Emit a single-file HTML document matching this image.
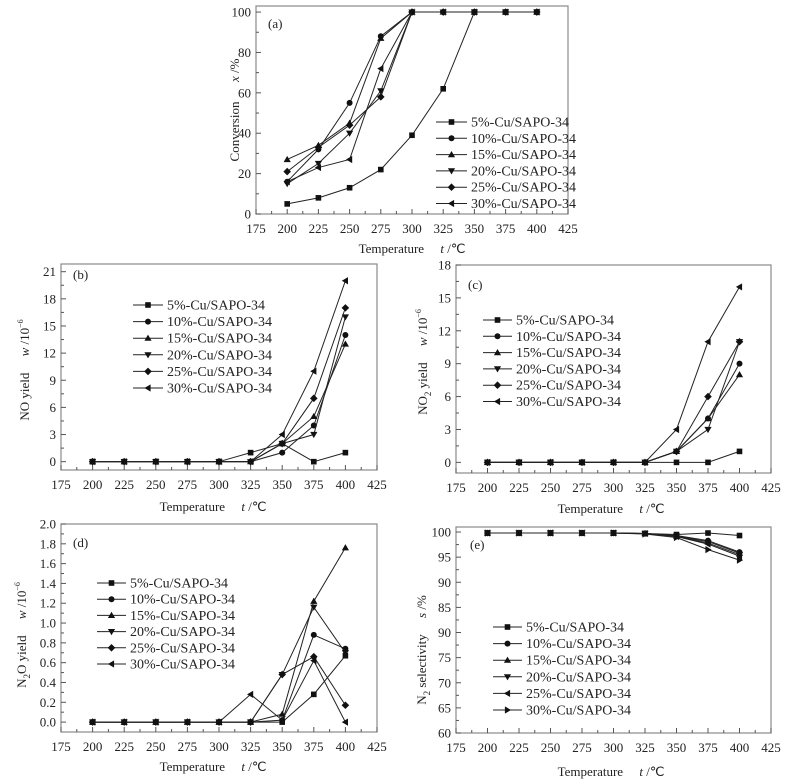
<!DOCTYPE html>
<html><head><meta charset="utf-8"><style>
body{margin:0;background:#fff}
svg{display:block;font-family:"Liberation Serif",serif}
text{fill:#222}
</style></head><body>
<svg id="fig" width="791" height="781" viewBox="0 0 791 781" xmlns="http://www.w3.org/2000/svg"></svg>
<script>
const temps=[200,225,250,275,300,325,350,375,400];
const seriesNames=["5%-Cu/SAPO-34","10%-Cu/SAPO-34","15%-Cu/SAPO-34","20%-Cu/SAPO-34","25%-Cu/SAPO-34","30%-Cu/SAPO-34"];
const xTicks=[175,200,225,250,275,300,325,350,375,400,425];
// (a) conversion
const convA5=[5,8,13,22,39,62,100,100,100];
const convA10=[16,32,55,88,100,100,100,100,100];
const convA15=[27,34,45,87,100,100,100,100,100];
const convA20=[15,25,40,61,100,100,100,100,100];
const convA25=[21,33,44,58,100,100,100,100,100];
const convA30=[16,23,27,72,100,100,100,100,100];
const yTicksA=[0,20,40,60,80,100];
// (b) NO yield
const noB5=[0,0,0,0,0,1,2,0,1];
const noB10=[0,0,0,0,0,0,1,4,14];
const noB15=[0,0,0,0,0,0,2,5,13];
const noB20=[0,0,0,0,0,0,2,3,16];
const noB25=[0,0,0,0,0,0,2,7,17];
const noB30=[0,0,0,0,0,0,3,10,20];
const yTicksB=[0,3,6,9,12,15,18,21];
// (c) NO2 yield
const no2C5=[0,0,0,0,0,0,0,0,1];
const no2C10=[0,0,0,0,0,0,1,4,9];
const no2C15=[0,0,0,0,0,0,1,4,8];
const no2C20=[0,0,0,0,0,0,1,3,11];
const no2C25=[0,0,0,0,0,0,1,6,11];
const no2C30=[0,0,0,0,0,0,3,11,16];
const yTicksC=[0,3,6,9,12,15,18];
// (d) N2O yield
const n2oD5=[0,0,0,0,0,0,0,0.28,0.67];
const n2oD10=[0,0,0,0,0,0,0.02,0.88,0.74];
const n2oD15=[0,0,0,0,0,0,0.08,1.22,1.76];
const n2oD20=[0,0,0,0,0,0,0.48,1.16,0.70];
const n2oD25=[0,0,0,0,0,0,0.48,0.66,0.17];
const n2oD30=[0,0,0,0,0,0.28,0.02,0.62,0];
const yTicksD=[0,0.2,0.4,0.6,0.8,1.0,1.2,1.4,1.6,1.8,2.0];
const yTickLabelsD=["0.0","0.2","0.4","0.6","0.8","1.0","1.2","1.4","1.6","1.8","2.0"];
// (e) N2 selectivity
const selE5=[99.8,99.8,99.8,99.8,99.8,99.7,99.5,99.8,99.3];
const selE10=[99.8,99.8,99.8,99.8,99.8,99.7,99.3,98.3,96.0];
const selE15=[99.8,99.8,99.8,99.8,99.8,99.7,99.2,98.1,95.8];
const selE20=[99.8,99.8,99.8,99.8,99.8,99.7,99.2,97.8,95.5];
const selE25=[99.8,99.8,99.8,99.8,99.8,99.7,99.1,97.6,95.2];
const selE30=[99.8,99.8,99.8,99.8,99.8,99.6,98.9,96.5,94.4];
const yTicksE=[60,65,70,75,80,85,90,95,100];
const yTickLabelsE=["60","65","70","75","90","85","90","95","100"];

const NS="http://www.w3.org/2000/svg";
const svg=document.getElementById('fig');
function mk(tag,attrs,parent){const e=document.createElementNS(NS,tag);for(const k in attrs)e.setAttribute(k,attrs[k]);(parent||svg).appendChild(e);return e;}
function marker(g,type,cx,cy){
  let e;
  if(type==='sq')e=mk('rect',{x:cx-2.8,y:cy-2.8,width:5.6,height:5.6,fill:'#111'},g);
  else if(type==='ci')e=mk('circle',{cx:cx,cy:cy,r:3,fill:'#111'},g);
  else{let p;
    if(type==='up')p=[[0,-3.6],[3.6,2.6],[-3.6,2.6]];
    else if(type==='dn')p=[[0,3.6],[3.6,-2.6],[-3.6,-2.6]];
    else if(type==='di')p=[[0,-3.8],[3.8,0],[0,3.8],[-3.8,0]];
    else if(type==='lt')p=[[-3.6,0],[2.6,-3.6],[2.6,3.6]];
    else p=[[3.6,0],[-2.6,-3.6],[-2.6,3.6]];
    e=mk('polygon',{points:p.map(q=>(cx+q[0])+','+(cy+q[1])).join(' '),fill:'#111'},g);}
  
  
}
function panel(c){
  const g=mk('g',{});
  
  
  const xs=v=>c.L+(v-175)/(425-175)*(c.R-c.L);
  const ys=v=>c.B-(v-c.ymin)/(c.ymax-c.ymin)*(c.B-c.T);
  const fr=mk('rect',{x:c.L,y:c.T,width:c.R-c.L,height:c.B-c.T,fill:'none',stroke:'#8a8a8a','stroke-width':1.2},g);
  
  
  const xa=mk('g',{},g);
  
  
  xTicks.forEach((t,i)=>{
    const x=xs(t);
    mk('line',{x1:x,x2:x,y1:c.B,y2:c.B-5,stroke:'#555'},xa);
    if(i<xTicks.length-1){const xm=xs(t+12.5);mk('line',{x1:xm,x2:xm,y1:c.B,y2:c.B-3,stroke:'#555'},xa);}
    const tx=mk('text',{x:x,y:c.B+19,'text-anchor':'middle','font-size':13},xa);tx.textContent=t;
    
    
  });
  const ya=mk('g',{},g);
  
  
  c.yt.forEach((t,i)=>{
    const y=ys(t);
    mk('line',{x1:c.L,x2:c.L+5,y1:y,y2:y,stroke:'#555'},ya);
    if(i<c.yt.length-1){const ym=ys(t+(c.yt[1]-c.yt[0])/2);mk('line',{x1:c.L,x2:c.L+3,y1:ym,y2:ym,stroke:'#555'},ya);}
    const tx=mk('text',{x:c.L-5,y:y+4.5,'text-anchor':'end','font-size':13},ya);tx.textContent=c.ytl?c.ytl[i]:t;
    
    
  });
  const lab=mk('text',{x:c.lab[0],y:c.lab[1],'font-size':13},g);lab.textContent='('+c.id+')';
  
  
  const xt=mk('text',{x:c.xt[0],y:c.xt[1],'text-anchor':'middle','font-size':13},g);
  xt.innerHTML='Temperature\u00a0\u00a0\u00a0\u00a0\u00a0<tspan font-style="italic">t</tspan> /℃';
  
  
  const yt=mk('text',{x:0,y:0,'text-anchor':'middle','font-size':13,transform:'translate('+c.ytp[0]+','+c.ytp[1]+') rotate(-90)'},g);
  yt.innerHTML=c.ytitle;
  
  
  c.series.forEach((s,k)=>{
    const sg=mk('g',{},g);
    
    
    mk('polyline',{points:s.map((v,i)=>xs(temps[i])+','+ys(v)).join(' '),fill:'none',stroke:'#222','stroke-width':1},sg);
    s.forEach((v,i)=>marker(sg,c.mk[k],xs(temps[i]),ys(v)));
  });
  const lg=mk('g',{},g);
  
  
  seriesNames.forEach((n,k)=>{
    const y=c.leg[1]+k*c.leg[3];
    const le=mk('g',{},lg);
    
    
    mk('line',{x1:c.leg[0],x2:c.leg[0]+c.leg[2],y1:y,y2:y,stroke:'#222'},le);
    marker(le,c.mk[k],c.leg[0]+c.leg[2]/2,y);
    const t=mk('text',{x:c.leg[0]+c.leg[2]+4,y:y+4.5,'font-size':14},le);t.textContent=n;
  });
}
const std=['sq','ci','up','dn','di','lt'];
panel({id:'a',L:256,R:568,T:6,B:214,ymin:0,ymax:103,yt:yTicksA,lab:[268,28],xt:[412,253],ytp:[239,110],
  ytitle:'Conversion\u00a0\u00a0\u00a0\u00a0\u00a0\u00a0<tspan font-style="italic">x</tspan> /%',
  series:[convA5,convA10,convA15,convA20,convA25,convA30],mk:std,leg:[436,122,31,16.3]});
panel({id:'b',L:61,R:377,T:264,B:470,ymin:-0.92,ymax:21.85,yt:yTicksB,lab:[73,279],xt:[213,511],ytp:[29,370],
  ytitle:'NO yield\u00a0\u00a0\u00a0\u00a0\u00a0<tspan font-style="italic">w</tspan> /10<tspan font-size="8" dy="-6">−6</tspan>',
  series:[noB5,noB10,noB15,noB20,noB25,noB30],mk:std,leg:[133,305,30,16.6]});
panel({id:'c',L:456,R:771,T:265,B:473,ymin:-0.97,ymax:18,yt:yTicksC,lab:[468,289],xt:[611,513],ytp:[427,362],
  ytitle:'NO<tspan font-size="9" dy="4">2</tspan><tspan dy="-4"> yield\u00a0\u00a0\u00a0\u00a0\u00a0</tspan><tspan font-style="italic">w</tspan> /10<tspan font-size="8" dy="-6">−6</tspan>',
  series:[no2C5,no2C10,no2C15,no2C20,no2C25,no2C30],mk:std,leg:[483,320,29,16.3]});
panel({id:'d',L:61,R:377,T:524,B:732,ymin:-0.1,ymax:2.0,yt:yTicksD,ytl:yTickLabelsD,lab:[73,547],xt:[213,771],ytp:[26,635],
  ytitle:'N<tspan font-size="9" dy="4">2</tspan><tspan dy="-4">O yield\u00a0\u00a0\u00a0\u00a0\u00a0</tspan><tspan font-style="italic">w</tspan> /10<tspan font-size="8" dy="-6">−6</tspan>',
  series:[n2oD5,n2oD10,n2oD15,n2oD20,n2oD25,n2oD30],mk:std,leg:[97,583,29,16.2]});
panel({id:'e',L:456,R:771,T:527,B:733,ymin:60,ymax:101,yt:yTicksE,ytl:yTickLabelsE,lab:[470,549],xt:[611,776],ytp:[426,650],
  ytitle:'N<tspan font-size="9" dy="4">2</tspan><tspan dy="-4"> selectivity\u00a0\u00a0\u00a0\u00a0\u00a0</tspan><tspan font-style="italic">s</tspan> /%',
  series:[selE5,selE10,selE15,selE20,selE25,selE30],mk:['sq','ci','up','dn','lt','rt'],leg:[493,627,29,16.6]});
</script>
</body></html>
